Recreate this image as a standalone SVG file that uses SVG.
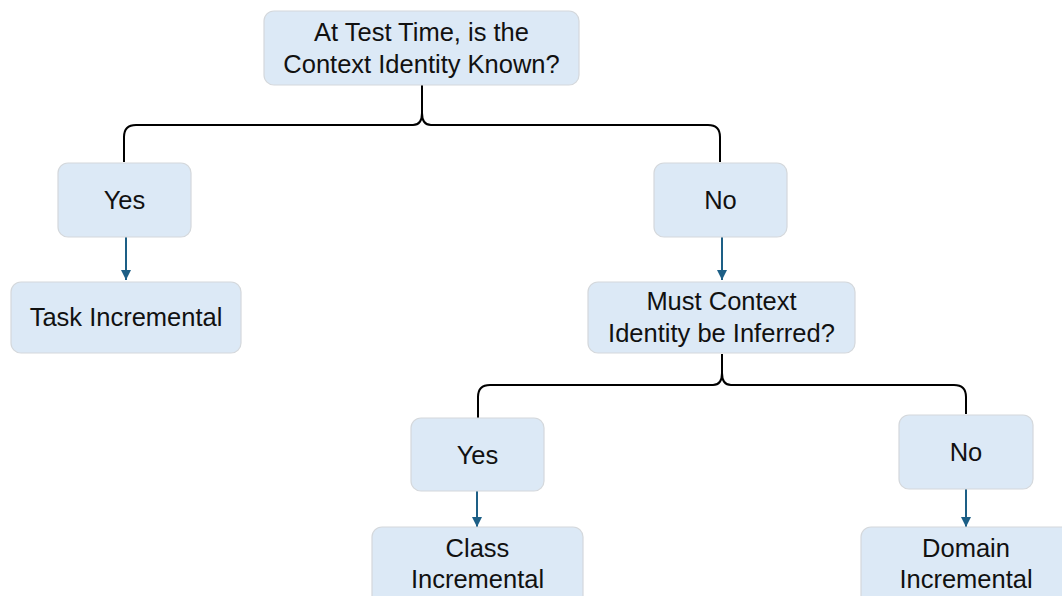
<svg xmlns="http://www.w3.org/2000/svg" width="1062" height="596" viewBox="0 0 1062 596">
  <defs>
    <style>
      .box { fill: #dce9f6; stroke: #d4d8dc; stroke-width: 1.2; }
      .lbl { font-family: "Liberation Sans", Arial, sans-serif; font-size: 25.5px; fill: #111111; text-anchor: middle; }
      .brace { fill: none; stroke: #000000; stroke-width: 2; }
      .arrow { fill: none; stroke: #1d5f86; stroke-width: 2; marker-end: url(#ah); }
    </style>
    <marker id="ah" viewBox="0 0 10 10" refX="10" refY="5" markerWidth="5" markerHeight="5" markerUnits="strokeWidth" orient="auto">
      <path d="M0,0 L10,5 L0,10 Z" fill="#1d5f86"/>
    </marker>
  </defs>
  <rect width="1062" height="596" fill="#ffffff"/>

  <g id="connectors">
    <path class="brace" d="M124,162 L124,137 Q124,125 136,125 L413,125 Q422,125 422,113 L422,85 M422,113 Q422,125 431,125 L708,125 Q720,125 720,137 L720,162"/>
    <path class="brace" d="M478,418 L478,397 Q478,385 490,385 L713,385 Q722,385 722,373 L722,354 M722,373 Q722,385 731,385 L954,385 Q966,385 966,397 L966,414"/>
    <path class="arrow" d="M126,237 L126,280"/>
    <path class="arrow" d="M722,237 L722,280"/>
    <path class="arrow" d="M477,491 L477,527"/>
    <path class="arrow" d="M966,489 L966,527"/>
  </g>

  <g id="node-top">
    <rect class="box" x="264" y="11" width="315" height="74" rx="10"/>
    <text class="lbl" x="421.5" y="41">At Test Time, is the</text>
    <text class="lbl" x="421.5" y="73">Context Identity Known?</text>
  </g>
  <g id="node-yes1">
    <rect class="box" x="58" y="163" width="133" height="74" rx="10"/>
    <text class="lbl" x="124.5" y="209">Yes</text>
  </g>
  <g id="node-no1">
    <rect class="box" x="654" y="163" width="133" height="74" rx="10"/>
    <text class="lbl" x="720.5" y="209">No</text>
  </g>
  <g id="node-task">
    <rect class="box" x="11" y="282" width="230" height="71" rx="10"/>
    <text class="lbl" x="126" y="326">Task Incremental</text>
  </g>
  <g id="node-must">
    <rect class="box" x="588" y="282" width="267" height="71" rx="10"/>
    <text class="lbl" x="721.5" y="310">Must Context</text>
    <text class="lbl" x="721.5" y="342">Identity be Inferred?</text>
  </g>
  <g id="node-yes2">
    <rect class="box" x="411" y="418" width="133" height="73" rx="10"/>
    <text class="lbl" x="477.5" y="464">Yes</text>
  </g>
  <g id="node-no2">
    <rect class="box" x="899" y="415" width="134" height="74" rx="10"/>
    <text class="lbl" x="966" y="461">No</text>
  </g>
  <g id="node-class">
    <rect class="box" x="372" y="527" width="211" height="90" rx="10"/>
    <text class="lbl" x="477.5" y="557">Class</text>
    <text class="lbl" x="477.5" y="588">Incremental</text>
  </g>
  <g id="node-domain">
    <rect class="box" x="861" y="527" width="211" height="90" rx="10"/>
    <text class="lbl" x="966" y="557">Domain</text>
    <text class="lbl" x="966" y="588">Incremental</text>
  </g>
</svg>
